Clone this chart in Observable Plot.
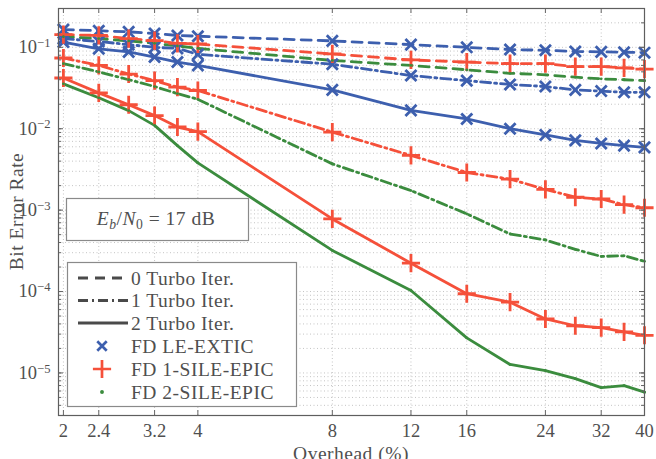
<!DOCTYPE html>
<html><head><meta charset="utf-8">
<script src="https://cdn.jsdelivr.net/npm/d3@7"></script>
<script src="https://cdn.jsdelivr.net/npm/@observablehq/plot@0.6"></script>
<style>
html,body{margin:0;padding:0;background:#fff;}
</style></head><body><div id="chart"></div>
<script>
// ---- data ----
const overhead = [2, 2.4, 2.8, 3.2, 3.6, 4, 8, 12, 16, 20, 24, 28, 32, 36, 40];
const xTickValues = [2, 2.4, 3.2, 4, 8, 12, 16, 24, 32, 40];
const yTickValues = [1e-5, 1e-4, 1e-3, 1e-2, 1e-1];
const methods = ["FD LE-EXTIC", "FD 1-SILE-EPIC", "FD 2-SILE-EPIC"];
const iterations = ["0 Turbo Iter.", "1 Turbo Iter.", "2 Turbo Iter."];

const berLeExtic0 = [0.165, 0.160, 0.155, 0.148, 0.140, 0.137, 0.120, 0.108, 0.100, 0.094, 0.092, 0.089, 0.088, 0.087, 0.086];
const berLeExtic1 = [0.128, 0.118, 0.108, 0.100, 0.097, 0.082, 0.062, 0.045, 0.039, 0.035, 0.033, 0.030, 0.029, 0.028, 0.028];
const berLeExtic2 = [0.116, 0.096, 0.088, 0.076, 0.066, 0.060, 0.030, 0.0168, 0.0132, 0.0100, 0.0084, 0.0072, 0.0066, 0.0062, 0.0059];

const berSile1_0 = [0.143, 0.140, 0.128, 0.121, 0.112, 0.110, 0.083, 0.070, 0.066, 0.063, 0.063, 0.058, 0.058, 0.056, 0.054];
const berSile1_1 = [0.074, 0.060, 0.047, 0.039, 0.0324, 0.0295, 0.0091, 0.0047, 0.0029, 0.0024, 0.0018, 0.00144, 0.00137, 0.00117, 0.00107];
const berSile1_2 = [0.042, 0.0276, 0.0197, 0.0145, 0.0105, 0.0092, 0.00078, 0.000223, 0.000094, 0.000074, 0.000046, 0.000038, 0.000036, 0.000032, 0.000029];

const berSile2_0 = [0.135, 0.128, 0.120, 0.112, 0.104, 0.097, 0.069, 0.060, 0.053, 0.048, 0.046, 0.043, 0.041, 0.040, 0.039];
const berSile2_1 = [0.063, 0.050, 0.040, 0.033, 0.027, 0.023, 0.0037, 0.00174, 0.0009, 0.00051, 0.00043, 0.00033, 0.00027, 0.000275, 0.000235];
const berSile2_2 = [0.0356, 0.024, 0.0167, 0.011, 0.0062, 0.0038, 0.00032, 0.000103, 0.000027, 0.0000127, 0.0000107, 0.0000085, 0.0000066, 0.000007, 0.0000058];

const annotationText = "= 17 dB";

// ---- styles ----
const colors = ["#3d5fae", "#f5503a", "#3b8c3e"];
const dashes = ["10,7", "10,4,2,4", "none"];
const FONT = "'Liberation Serif', 'DejaVu Serif', serif";
const TEXT = "#4f4f4f";

const seriesTable = [
  [berLeExtic0, berLeExtic1, berLeExtic2],
  [berSile1_0, berSile1_1, berSile1_2],
  [berSile2_0, berSile2_1, berSile2_2]
];
const rows = [];
methods.forEach((m, mi) => iterations.forEach((it, ii) =>
  seriesTable[mi][ii].forEach((v, k) => rows.push({x: overhead[k], ber: v, method: m, iter: it, key: m + "|" + it}))));

const yMinor = [];
for (let e = -6; e <= -1; e++) for (let k = 1; k <= 9; k++) {
  const v = +(k * Math.pow(10, e)).toPrecision(3);
  if (v >= 3e-6 && v <= 0.3) yMinor.push(v);
}

const W = 656, H = 459, mL = 58, mR = 12, mT = 8, mB = 44;
const innerH = H - mT - mB, innerW = W - mL - mR;

const chart = Plot.plot({
  width: W, height: H,
  marginLeft: mL, marginRight: mR, marginTop: mT, marginBottom: mB,
  style: {fontFamily: FONT, fontSize: "18px", color: TEXT, background: "#fff"},
  x: {type: "log", domain: [1.95, 40], ticks: xTickValues, tickFormat: d => String(d), tickSize: 0, tickPadding: 8, label: null},
  y: {type: "log", domain: [3e-6, 0.3], ticks: yTickValues, tickFormat: d => "10^" + Math.round(Math.log10(d)), tickSize: 0, tickPadding: 8, label: null},
  color: {domain: methods, range: colors},
  marks: [
    Plot.ruleY(yMinor, {stroke: "#c4c4c4", strokeDasharray: "1,2.5", strokeWidth: 1}),
    Plot.ruleX(xTickValues, {stroke: "#c4c4c4", strokeDasharray: "1,2.5", strokeWidth: 1}),
    ...iterations.map((it, ii) => Plot.line(rows.filter(r => r.iter === it), {
      x: "x", y: "ber", z: "key", stroke: "method", strokeWidth: 2.8, strokeDasharray: dashes[ii]
    })),
    Plot.dot(rows.filter(r => r.method === methods[0]), {x: "x", y: "ber", symbol: "times", r: 5.1, stroke: "method", strokeWidth: 2.8}),
    Plot.dot(rows.filter(r => r.method === methods[1]), {x: "x", y: "ber", symbol: "plus", r: 5.9, stroke: "method", strokeWidth: 2.8}),
    Plot.dot(rows.filter(r => r.method === methods[2]), {x: "x", y: "ber", r: 1.4, fill: "method", stroke: null}),
    // inner tick marks (MATLAB style)
    Plot.ruleX(xTickValues, {insetTop: innerH - 5, stroke: "#666"}),
    Plot.ruleX(xTickValues, {insetBottom: innerH - 5, stroke: "#666"}),
    Plot.ruleY(yMinor, {insetRight: innerW - 3, stroke: "#666"}),
    Plot.ruleY(yMinor, {insetLeft: innerW - 3, stroke: "#666"}),
    Plot.ruleY(yTickValues, {insetRight: innerW - 5, stroke: "#666"}),
    Plot.ruleY(yTickValues, {insetLeft: innerW - 5, stroke: "#666"}),
    Plot.frame({stroke: "#5e5e5e", strokeWidth: 1.2})
  ]
});

document.getElementById("chart").appendChild(chart);
const svg = d3.select(chart.tagName.toLowerCase() === "svg" ? chart : chart.querySelector("svg"));

// tick label styling + superscripts
svg.selectAll("text").each(function() {
  const el = d3.select(this);
  el.style("font-size", "18.5px").style("font-family", FONT).attr("fill", TEXT);
  const m = /^10\^(-?\d+)$/.exec(this.textContent);
  if (!m) return;
  el.text(null);
  el.append("tspan").text("10");
  el.append("tspan").attr("dy", "-0.5em").attr("font-size", "0.68em").text(String(m[1]).replace("-", "\u2212"));
});

function addText(g, attrs, str, size) {
  const t = g.append("text").attr("font-family", FONT).attr("font-size", size).attr("fill", TEXT)
    .attr("text-anchor", "start").style("letter-spacing", "0.5px");
  for (const k in attrs) t.attr(k, attrs[k]);
  if (str != null) t.text(str);
  return t;
}

// axis titles
addText(svg, {transform: `translate(16,${mT + innerH / 2}) rotate(-90)`, "text-anchor": "middle", dy: "0.35em"}, "Bit Error Rate", 19.5);
addText(svg, {x: mL + innerW / 2, y: 459.5, "text-anchor": "middle"}, "Overhead (%)", 19.5);

// Eb/N0 annotation box
const ann = svg.append("g");
ann.append("rect").attr("x", 66.5).attr("y", 198.5).attr("width", 182).attr("height", 42)
  .attr("fill", "#fff").attr("stroke", "#8a8a8a").attr("stroke-width", 1.2);
const at = addText(ann, {x: 156, y: 225, "text-anchor": "middle"}, null, 19.5);
at.append("tspan").attr("font-style", "italic").text("E");
at.append("tspan").attr("font-style", "italic").attr("font-size", "0.7em").attr("dy", "0.3em").text("b");
at.append("tspan").attr("dy", "-0.21em").text("/");
at.append("tspan").attr("font-style", "italic").text("N");
at.append("tspan").attr("font-size", "0.7em").attr("dy", "0.3em").text("0");
at.append("tspan").attr("dy", "-0.21em").text(" " + annotationText);

// legend
const lg = svg.append("g");
lg.append("rect").attr("x", 67.5).attr("y", 262.5).attr("width", 229).attr("height", 144)
  .attr("fill", "#fff").attr("stroke", "#8a8a8a").attr("stroke-width", 1.2);
const rowY = [278, 300.5, 323, 346, 369, 392];
iterations.forEach((it, i) => {
  lg.append("line").attr("x1", 78).attr("x2", 128).attr("y1", rowY[i]).attr("y2", rowY[i])
    .attr("stroke", "#4a4a4a").attr("stroke-width", 2.8).attr("stroke-dasharray", dashes[i]);
  addText(lg, {x: 131, y: rowY[i], dy: "0.35em"}, it, 19.5);
});
const symTypes = [d3.symbolTimes, d3.symbolPlus, d3.symbolCircle];
const symSizes = [60, 110, 12];
methods.forEach((m, i) => {
  const p = lg.append("path").attr("transform", `translate(102,${rowY[3 + i]})`)
    .attr("d", d3.symbol(symTypes[i], symSizes[i])());
  if (i < 2) p.attr("fill", "none").attr("stroke", colors[i]).attr("stroke-width", 2.7);
  else p.attr("fill", colors[i]);
  addText(lg, {x: 131, y: rowY[3 + i], dy: "0.35em"}, m, 19.5);
});
</script></body></html>
